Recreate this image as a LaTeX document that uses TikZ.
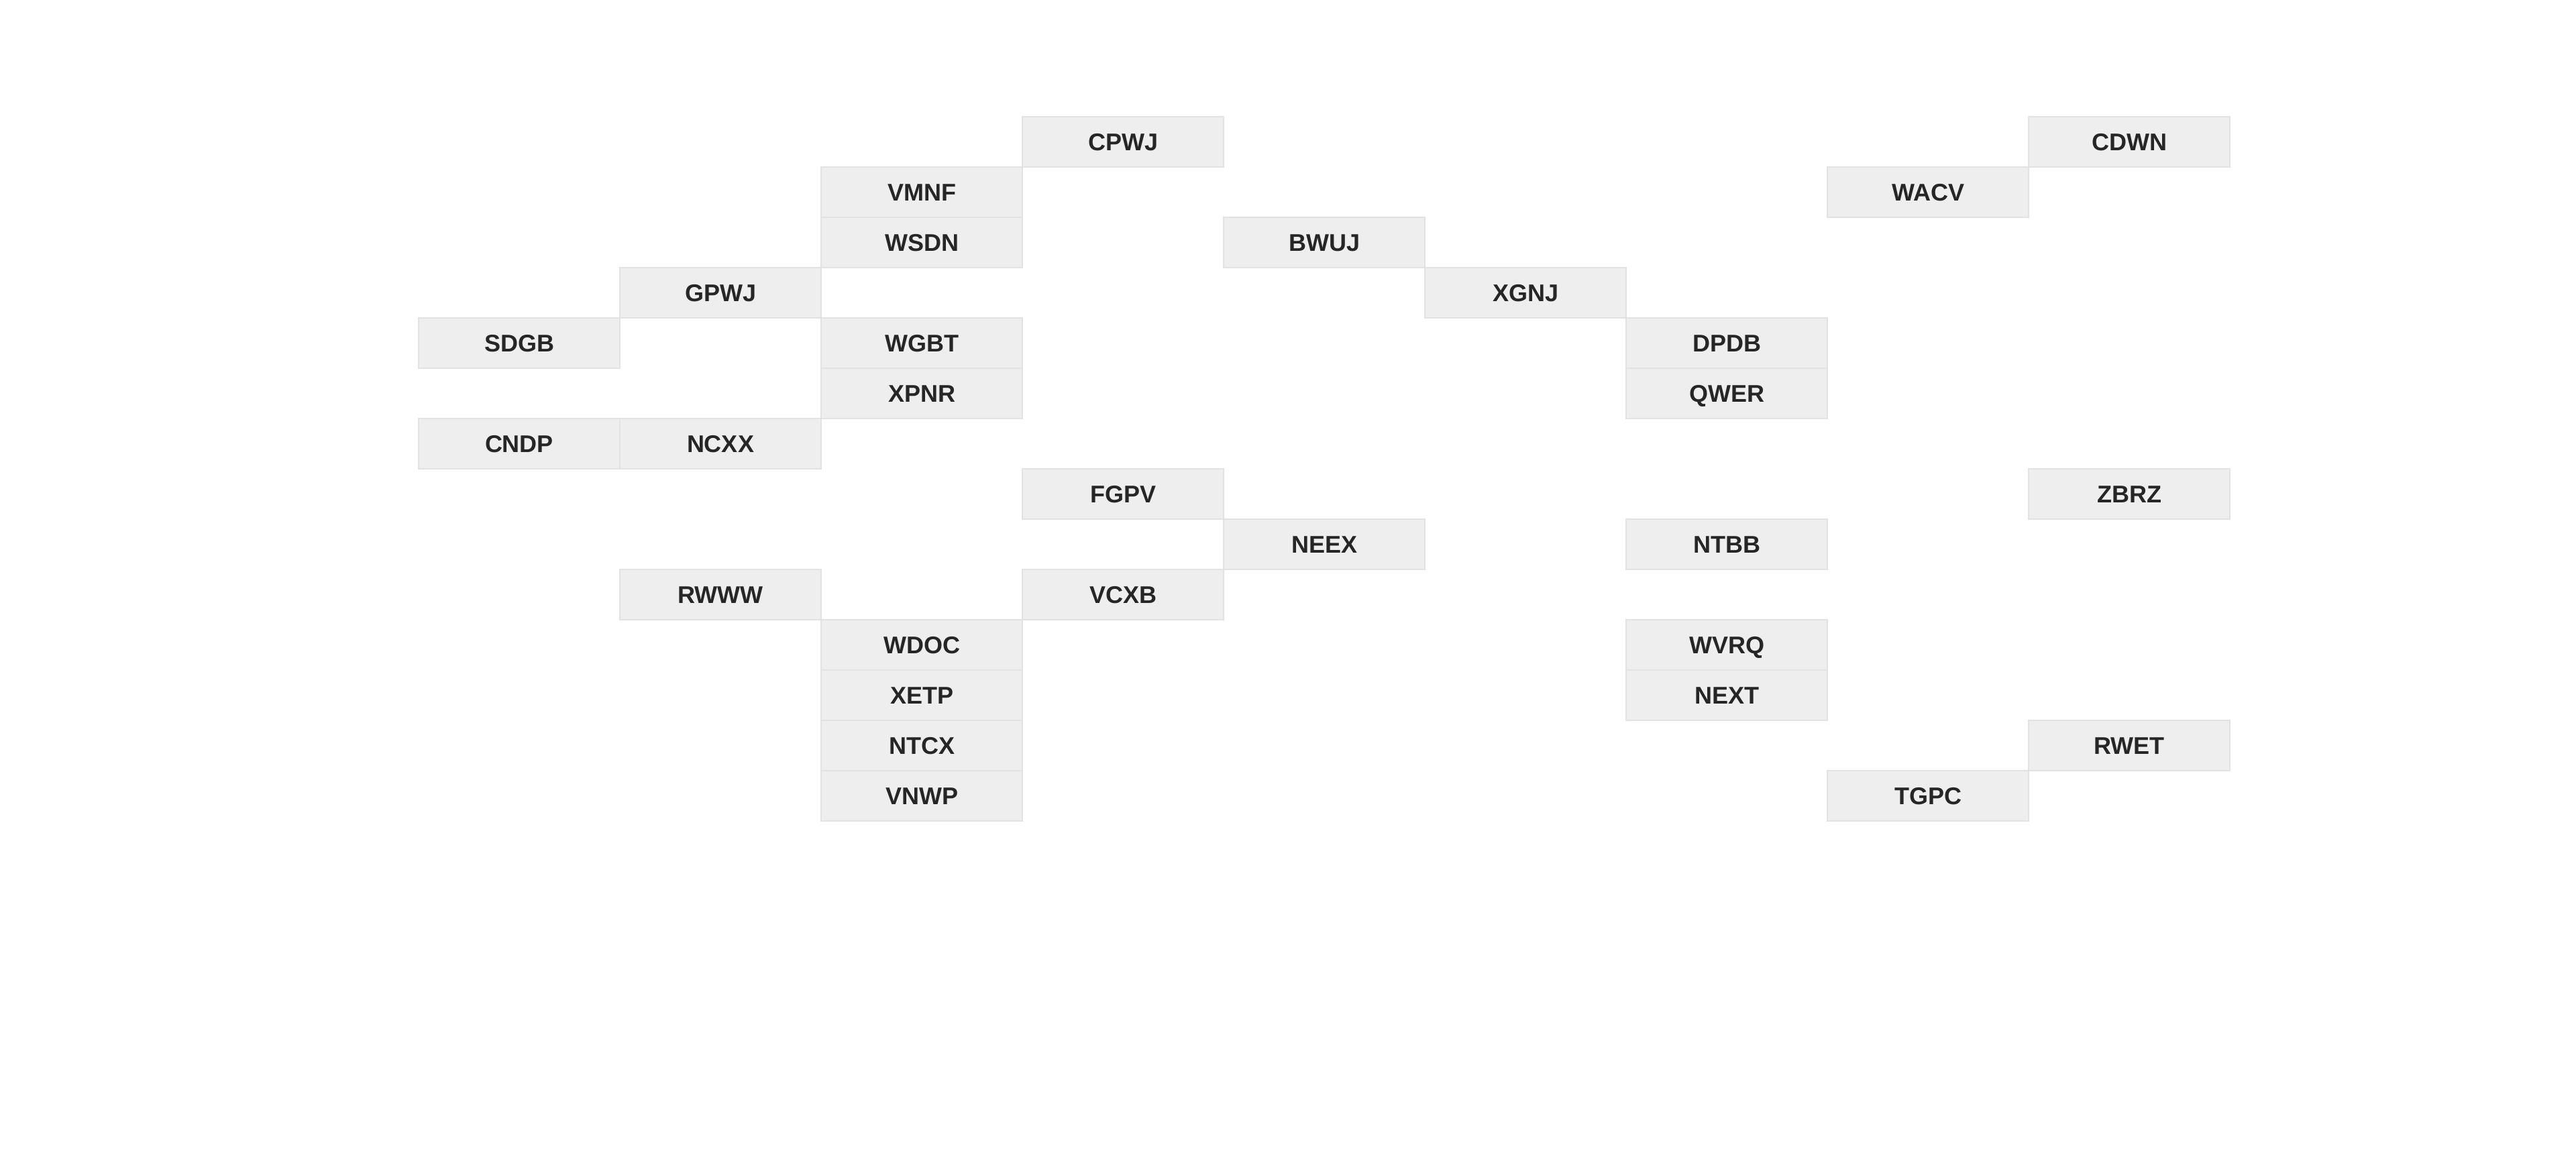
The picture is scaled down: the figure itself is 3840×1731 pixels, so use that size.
\documentclass[tikz,border=0pt]{standalone}
\usepackage{fontspec}
\setmainfont{Liberation Sans}
\definecolor{boxfill}{HTML}{EEEEEE}
\definecolor{boxline}{HTML}{E2E2E2}
\definecolor{boxtext}{HTML}{262626}
\begin{document}
\begin{tikzpicture}[x=0.25pt,y=-0.25pt,
  cell/.style={draw=boxline, line width=0.4pt, fill=boxfill, minimum width=75pt, minimum height=18.75pt,
    inner sep=0pt, outer sep=0pt, text=boxtext, text height=6.6pt, text depth=0.2pt,
    font=\fontsize{9}{10}\selectfont\bfseries}]
\useasboundingbox[fill=white] (0,0) rectangle (3840,1731);
\newcommand{\cellat}[4]{\node[cell] (#1) at ({774+300*#2},{211.5+75*#3}) {#4};}
\cellat{cpwj}{3}{0}{CPWJ}
\cellat{cdwn}{8}{0}{CDWN}
\cellat{vmnf}{2}{1}{VMNF}
\cellat{wacv}{7}{1}{WACV}
\cellat{wsdn}{2}{2}{WSDN}
\cellat{bwuj}{4}{2}{BWUJ}
\cellat{gpwj}{1}{3}{GPWJ}
\cellat{xgnj}{5}{3}{XGNJ}
\cellat{sdgb}{0}{4}{SDGB}
\cellat{wgbt}{2}{4}{WGBT}
\cellat{dpdb}{6}{4}{DPDB}
\cellat{xpnr}{2}{5}{XPNR}
\cellat{qwer}{6}{5}{QWER}
\cellat{cndp}{0}{6}{CNDP}
\cellat{ncxx}{1}{6}{NCXX}
\cellat{fgpv}{3}{7}{FGPV}
\cellat{zbrz}{8}{7}{ZBRZ}
\cellat{neex}{4}{8}{NEEX}
\cellat{ntbb}{6}{8}{NTBB}
\cellat{rwww}{1}{9}{RWWW}
\cellat{vcxb}{3}{9}{VCXB}
\cellat{wdoc}{2}{10}{WDOC}
\cellat{wvrq}{6}{10}{WVRQ}
\cellat{xetp}{2}{11}{XETP}
\cellat{next}{6}{11}{NEXT}
\cellat{ntcx}{2}{12}{NTCX}
\cellat{rwet}{8}{12}{RWET}
\cellat{vnwp}{2}{13}{VNWP}
\cellat{tgpc}{7}{13}{TGPC}
\end{tikzpicture}
\end{document}
